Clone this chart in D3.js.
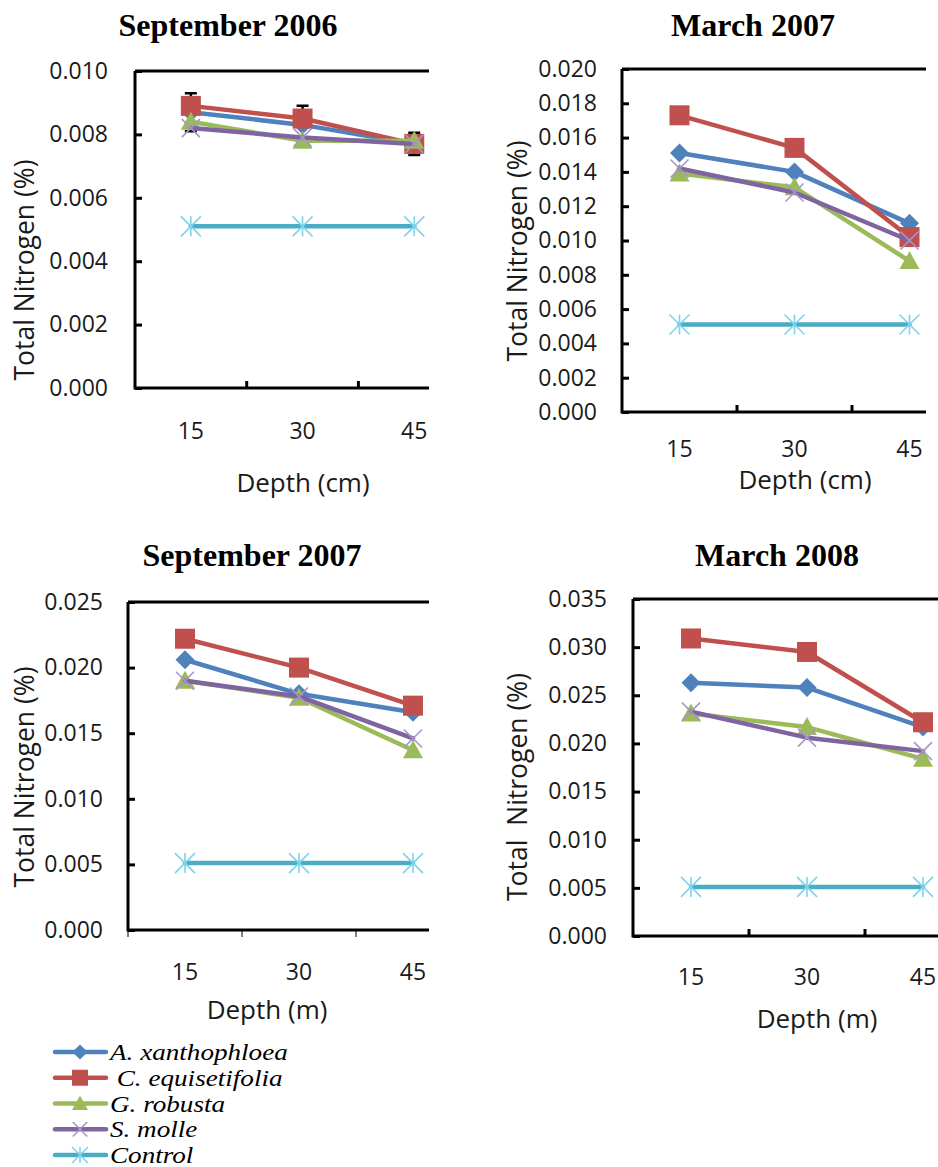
<!DOCTYPE html>
<html><head><meta charset="utf-8">
<script src="https://cdn.jsdelivr.net/npm/d3@7"></script>
<style>body{margin:0;background:#fff}svg{display:block}</style>
</head><body>
<svg id="c" width="938" height="1167"></svg>
<script>
// ---------------- DATA ----------------
const depths = ["15", "30", "45"];
const seriesNames = ["A. xanthophloea", "C. equisetifolia", "G. robusta", "S. molle", "Control"];

const sep2006_A = [0.0087, 0.0083, 0.0077];
const sep2006_C = [0.0089, 0.0085, 0.0077];
const sep2006_G = [0.0084, 0.0078, 0.0078];
const sep2006_S = [0.0082, 0.0079, 0.0077];
const sep2006_K = [0.0051, 0.0051, 0.0051];
const sep2006_errA = [0.0006, 0.0006, 0.00035];
const sep2006_yTicks = [0, 0.002, 0.004, 0.006, 0.008, 0.010];

const mar2007_A = [0.0151, 0.0140, 0.0110];
const mar2007_C = [0.0173, 0.0154, 0.0102];
const mar2007_G = [0.0139, 0.0131, 0.0088];
const mar2007_S = [0.0142, 0.0128, 0.0100];
const mar2007_K = [0.0051, 0.0051, 0.0051];
const mar2007_yTicks = [0, 0.002, 0.004, 0.006, 0.008, 0.010, 0.012, 0.014, 0.016, 0.018, 0.020];

const sep2007_A = [0.0206, 0.0180, 0.0166];
const sep2007_C = [0.0222, 0.0200, 0.0171];
const sep2007_G = [0.0190, 0.0177, 0.0137];
const sep2007_S = [0.0190, 0.0178, 0.0146];
const sep2007_K = [0.0051, 0.0051, 0.0051];
const sep2007_yTicks = [0, 0.005, 0.010, 0.015, 0.020, 0.025];

const mar2008_A = [0.0263, 0.0258, 0.0217];
const mar2008_C = [0.0309, 0.0295, 0.0222];
const mar2008_G = [0.0231, 0.0217, 0.0184];
const mar2008_S = [0.0233, 0.0206, 0.0192];
const mar2008_K = [0.0051, 0.0051, 0.0051];
const mar2008_yTicks = [0, 0.005, 0.010, 0.015, 0.020, 0.025, 0.030, 0.035];

// ---------------- STYLE ----------------
const styles = [
  {color: "#4F81BD", marker: "diamond", mcolor: "#4F81BD"},
  {color: "#C0504D", marker: "square", mcolor: "#C0504D"},
  {color: "#9BBB59", marker: "triangle", mcolor: "#9BBB59"},
  {color: "#8064A2", marker: "x", mcolor: "#A796C8"},
  {color: "#4BACC6", marker: "star", mcolor: "#7FD3EA"}
];
const SANS = "'Open Sans', 'DejaVu Sans', sans-serif";
const SERIF = "'Liberation Serif', 'DejaVu Serif', serif";
const TXT = "#1a1a1a";

const panels = [
  {title: "September 2006", tx: 228, ty: 36, left: 135, top: 71, bottom: 388, step: 111.7, clipR: 429, pad: 27,
   series: [sep2006_A, sep2006_C, sep2006_G, sep2006_S, sep2006_K], err: sep2006_errA, yTicks: sep2006_yTicks,
   yLabel: "Total Nitrogen (%)", ylx: 25, yly: 270, xTitle: "Depth (cm)", xtx: 303, xty: 492, xTickY: 439, tickOut: false},
  {title: "March 2007", tx: 753, ty: 36, left: 622, top: 69, bottom: 412, step: 115, clipR: 926, pad: 25,
   series: [mar2007_A, mar2007_C, mar2007_G, mar2007_S, mar2007_K], err: null, yTicks: mar2007_yTicks,
   yLabel: "Total Nitrogen (%)", ylx: 518, yly: 251, xTitle: "Depth (cm)", xtx: 805, xty: 489, xTickY: 457, tickOut: false},
  {title: "September 2007", tx: 252, ty: 566, left: 128, top: 602, bottom: 930, step: 114, clipR: 429, pad: 25,
   series: [sep2007_A, sep2007_C, sep2007_G, sep2007_S, sep2007_K], err: null, yTicks: sep2007_yTicks,
   yLabel: "Total Nitrogen (%)", ylx: 25, yly: 777, xTitle: "Depth (m)", xtx: 267, xty: 1019, xTickY: 980, tickOut: true},
  {title: "March 2008", tx: 777, ty: 566, left: 633, top: 599, bottom: 936, step: 116, clipR: 938, pad: 26,
   series: [mar2008_A, mar2008_C, mar2008_G, mar2008_S, mar2008_K], err: null, yTicks: mar2008_yTicks,
   yLabel: "Total  Nitrogen (%)", ylx: 518, yly: 787, xTitle: "Depth (m)", xtx: 817, xty: 1028, xTickY: 985, tickOut: false}
];

const svg = d3.select("#c");

function drawMarker(g, type, color, x, y, s) {
  s = s || 1;
  if (type === "diamond") {
    const r = 9.5 * s;
    g.append("path").attr("d", `M${x},${y - r}L${x + r},${y}L${x},${y + r}L${x - r},${y}Z`).attr("fill", color);
  } else if (type === "square") {
    const r = 10 * s;
    g.append("rect").attr("x", x - r).attr("y", y - r).attr("width", 2 * r).attr("height", 2 * r).attr("fill", color);
  } else if (type === "triangle") {
    const r = 10 * s;
    g.append("path").attr("d", `M${x},${y - r}L${x + r},${y + 0.8 * r}L${x - r},${y + 0.8 * r}Z`).attr("fill", color);
  } else if (type === "x") {
    const r = 9 * s;
    g.append("path").attr("d", `M${x - r},${y - r}L${x + r},${y + r}M${x - r},${y + r}L${x + r},${y - r}`)
      .attr("stroke", color).attr("stroke-width", 1.6).attr("fill", "none");
  } else if (type === "star") {
    const r = 10 * s;
    g.append("path").attr("d", `M${x - r},${y - r}L${x + r},${y + r}M${x - r},${y + r}L${x + r},${y - r}M${x},${y - r}L${x},${y + r}`)
      .attr("stroke", color).attr("stroke-width", 1.6).attr("fill", "none");
  }
}

panels.forEach((p, pi) => {
  const x = d3.scaleBand().domain(depths).range([p.left, p.left + p.step * depths.length]).padding(0);
  const yMax = p.yTicks[p.yTicks.length - 1];
  const y = d3.scaleLinear().domain([0, yMax]).range([p.bottom, p.top]);
  const cx = d => x(d) + x.bandwidth() / 2;

  svg.append("defs").append("clipPath").attr("id", "clip" + pi)
    .append("rect").attr("x", 0).attr("y", 0).attr("width", p.clipR).attr("height", 1167);

  const g = svg.append("g");
  const plot = g.append("g").attr("clip-path", `url(#clip${pi})`);

  // title
  g.append("text").attr("x", p.tx).attr("y", p.ty).attr("text-anchor", "middle")
    .attr("font-family", SERIF).attr("font-weight", "bold").attr("font-size", 32).attr("fill", "#000").text(p.title);

  // y axis
  const yAxis = d3.axisLeft(y).tickValues(p.yTicks).tickFormat(d3.format(".3f"))
    .tickSizeInner(-7).tickSizeOuter(0).tickPadding(p.pad);
  const ya = g.append("g").attr("transform", `translate(${p.left},0)`).call(yAxis);
  ya.select(".domain").remove();
  ya.selectAll(".tick line").attr("stroke", "#000").attr("stroke-width", 3);
  ya.selectAll(".tick text").attr("font-family", SANS).attr("font-size", 23).attr("fill", TXT);

  // x tick labels
  g.append("g").selectAll("text").data(depths).join("text")
    .attr("x", d => cx(d)).attr("y", p.xTickY).attr("text-anchor", "middle")
    .attr("font-family", SANS).attr("font-size", 23).attr("fill", TXT).text(d => d);

  // x minor ticks at category boundaries
  const bounds = depths.slice(1).map(d => x(d));
  if (p.tickOut) {
    plot.append("g").selectAll("line").data([p.left].concat(bounds)).join("line")
      .attr("x1", d => d).attr("x2", d => d).attr("y1", p.bottom).attr("y2", p.bottom + 7)
      .attr("stroke", "#555").attr("stroke-width", 1.5);
  } else {
    plot.append("g").selectAll("line").data(bounds).join("line")
      .attr("x1", d => d).attr("x2", d => d).attr("y1", p.bottom).attr("y2", p.bottom - 7)
      .attr("stroke", "#000").attr("stroke-width", 3);
  }

  // frame
  plot.append("path")
    .attr("d", `M${p.left},${p.top}L${p.clipR + 5},${p.top}M${p.left},${p.top}L${p.left},${p.bottom}M${p.left - 1.5},${p.bottom}L${p.clipR + 5},${p.bottom}`)
    .attr("stroke", "#000").attr("stroke-width", 3).attr("fill", "none");

  // axis titles
  g.append("text").attr("transform", `translate(${p.ylx},${p.yly}) rotate(-90)`).attr("text-anchor", "middle")
    .attr("dy", "0.35em").style("white-space", "pre")
    .attr("font-family", SANS).attr("font-size", 26.5).attr("fill", TXT).text(p.yLabel);
  g.append("text").attr("x", p.xtx).attr("y", p.xty).attr("text-anchor", "middle")
    .attr("font-family", SANS).attr("font-size", 26).attr("fill", TXT).text(p.xTitle);

  // series
  const line = d3.line().x((v, i) => cx(depths[i])).y(v => y(v));
  p.series.forEach((vals, si) => {
    const st = styles[si];
    const sg = plot.append("g");
    sg.append("path").attr("d", line(vals)).attr("fill", "none").attr("stroke", st.color)
      .attr("stroke-width", 4.5).attr("stroke-linejoin", "round").attr("stroke-linecap", "round");
    if (si === 0 && p.err) {
      const eg = sg.append("g");
      vals.forEach((v, i) => {
        const xx = cx(depths[i]), e = p.err[i];
        eg.append("path")
          .attr("d", `M${xx},${y(v + e)}L${xx},${y(v - e)}M${xx - 6},${y(v + e)}L${xx + 6},${y(v + e)}M${xx - 6},${y(v - e)}L${xx + 6},${y(v - e)}`)
          .attr("stroke", "#000").attr("stroke-width", 2.5).attr("fill", "none");
      });
    }
    vals.forEach((v, i) => drawMarker(sg, st.marker, st.mcolor, cx(depths[i]), y(v)));
  });
});

// legend
const legY = d3.scalePoint().domain(seriesNames).range([1052, 1155]);
const leg = svg.append("g");
seriesNames.forEach((name, i) => {
  const st = styles[i];
  const yy = legY(name);
  leg.append("line").attr("x1", 55).attr("x2", 106).attr("y1", yy).attr("y2", yy)
    .attr("stroke", st.color).attr("stroke-width", 4.5).attr("stroke-linecap", "round");
  drawMarker(leg, st.marker, st.mcolor, 80, yy, 0.8);
  const label = (i === 1 ? " " : "") + name;
  leg.append("text").attr("transform", `translate(110,${yy + 8}) scale(1.18,1)`)
    .style("white-space", "pre")
    .attr("font-family", SERIF).attr("font-style", "italic").attr("font-size", 23).attr("fill", "#000").text(label);
});
</script>
</body></html>
